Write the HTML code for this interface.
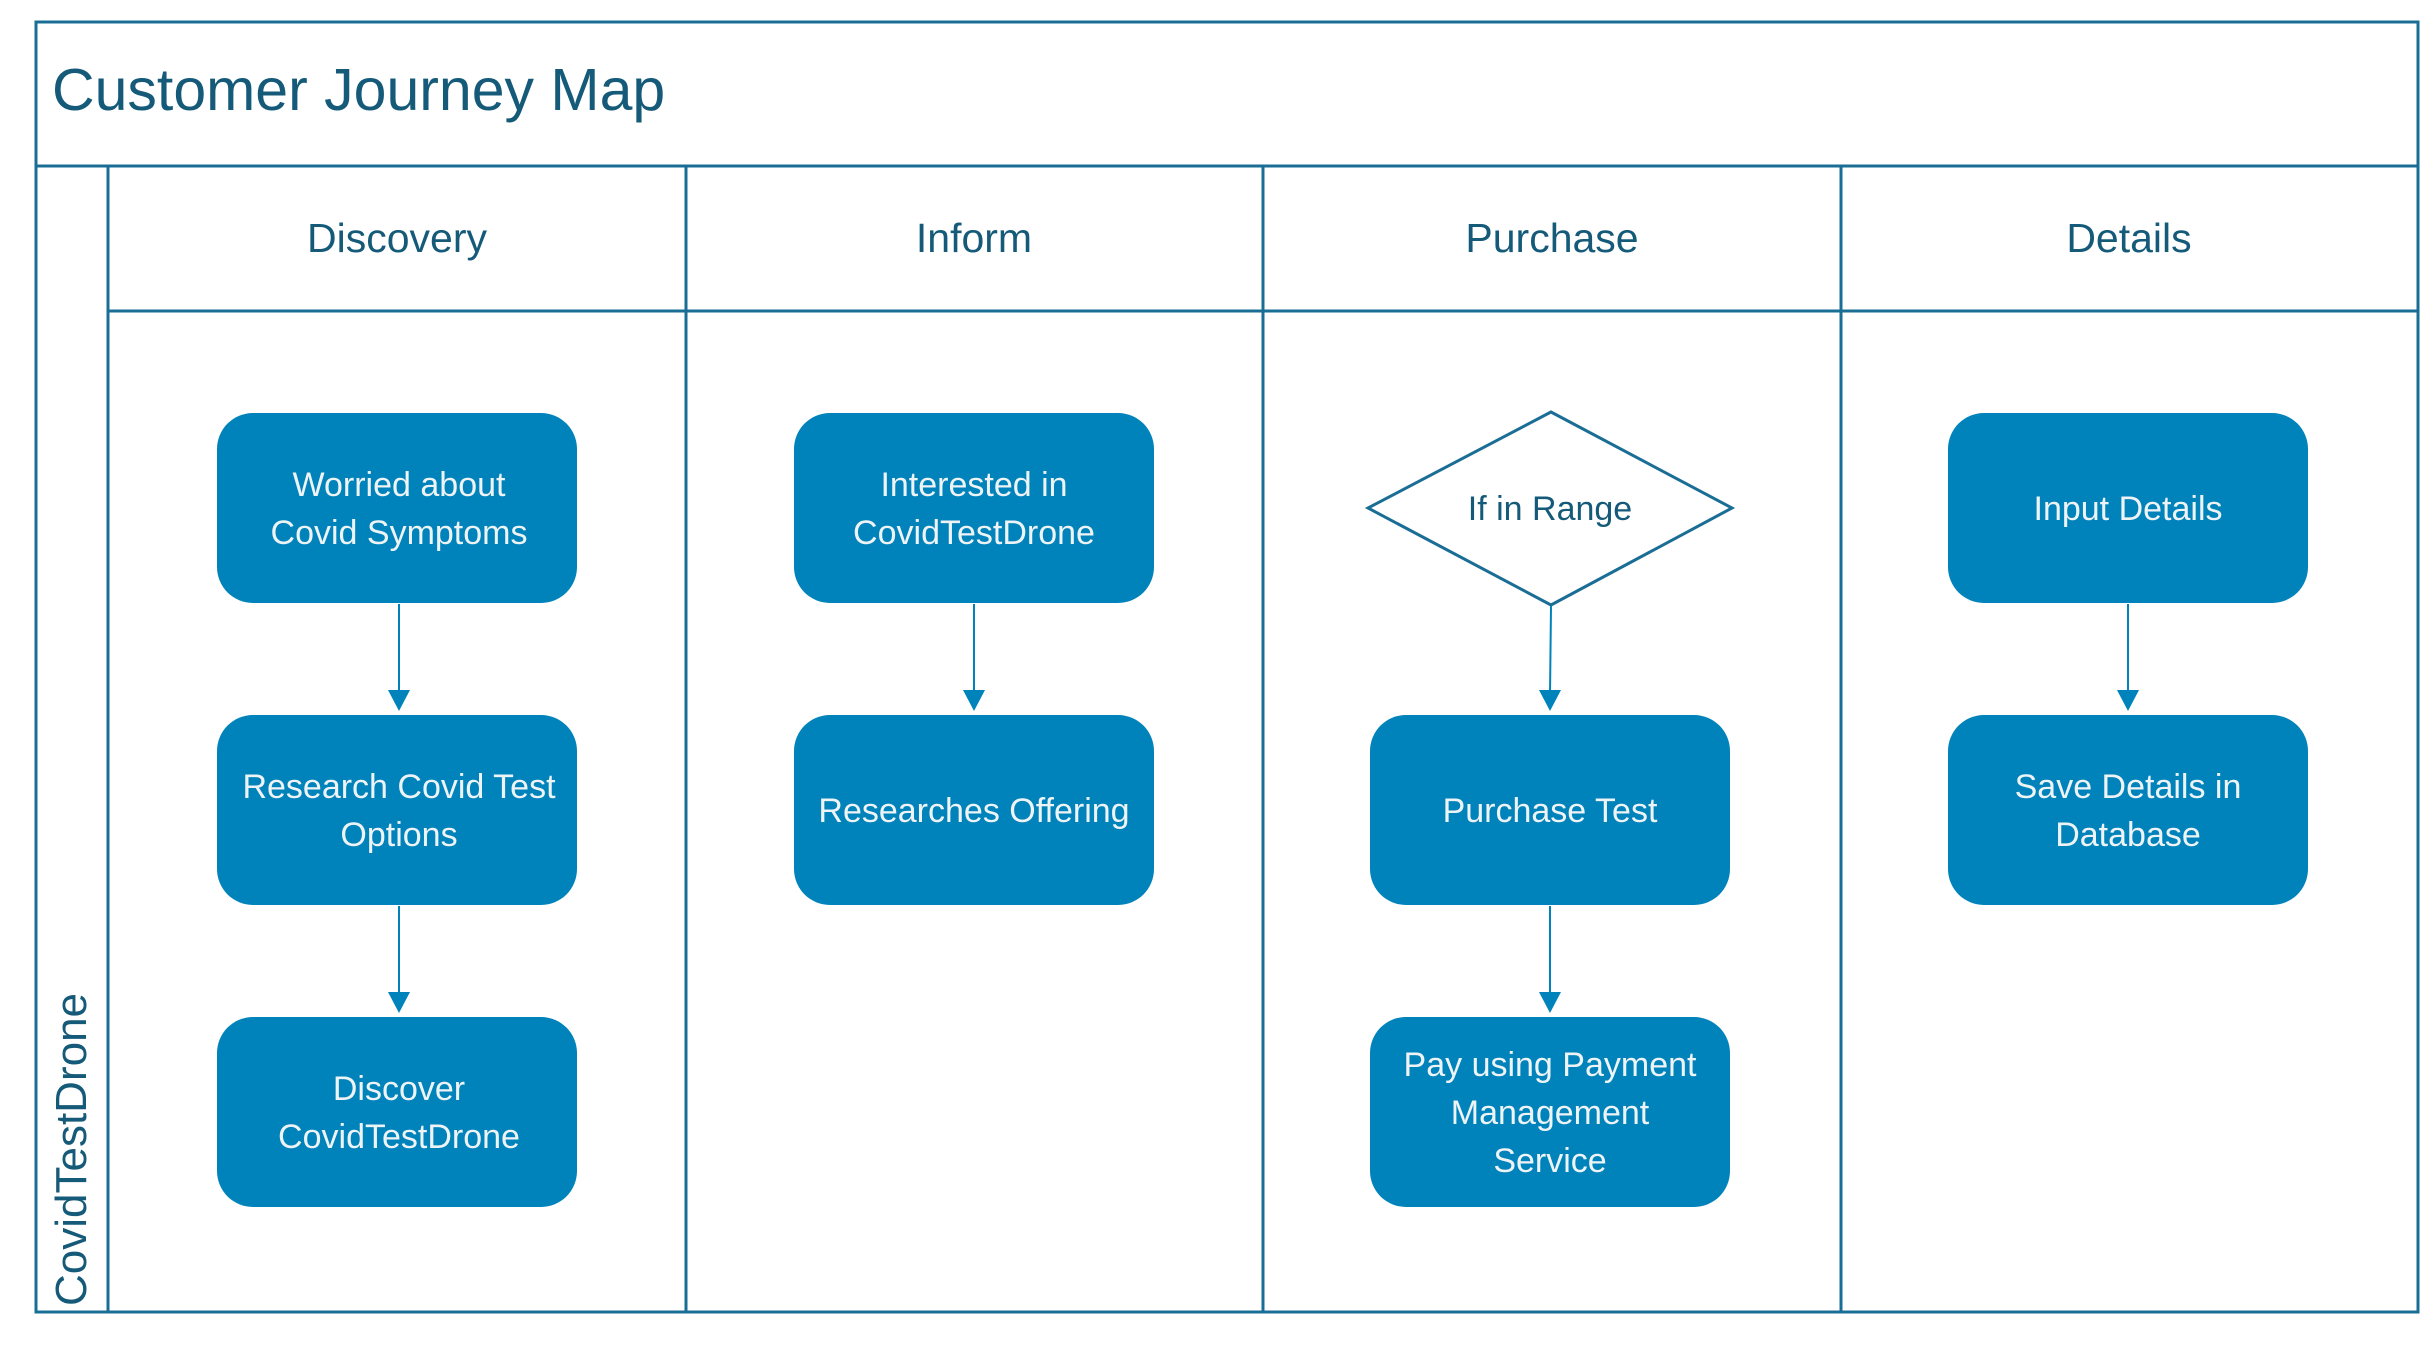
<!DOCTYPE html>
<html><head><meta charset="utf-8"><style>
html,body{margin:0;padding:0;background:#fff;}
svg{display:block;}
text{font-family:"Liberation Sans",sans-serif;}
</style></head><body>
<svg width="2427" height="1349" viewBox="0 0 2427 1349" xmlns="http://www.w3.org/2000/svg">
<g fill="none" stroke="#1A6E96" stroke-width="3">
<rect x="36" y="22" width="2382" height="1290"/>
<line x1="36" y1="166" x2="2418" y2="166"/>
<line x1="108" y1="166" x2="108" y2="1312"/>
<line x1="108" y1="311" x2="2418" y2="311"/>
<line x1="686" y1="166" x2="686" y2="1312"/>
<line x1="1263" y1="166" x2="1263" y2="1312"/>
<line x1="1841" y1="166" x2="1841" y2="1312"/>
</g>
<text x="52" y="110" font-size="59" fill="#155A78">Customer Journey Map</text>
<g font-size="41" fill="#155A78" text-anchor="middle">
<text x="397" y="252">Discovery</text>
<text x="974" y="252">Inform</text>
<text x="1552" y="252">Purchase</text>
<text x="2129" y="252">Details</text>
</g>
<text transform="translate(86,1306) rotate(-90)" font-size="44" fill="#155A78">CovidTestDrone</text>
<g fill="#0083BA">
<rect x="217" y="413" width="360" height="190" rx="36"/>
<rect x="217" y="715" width="360" height="190" rx="36"/>
<rect x="217" y="1017" width="360" height="190" rx="36"/>
<rect x="794" y="413" width="360" height="190" rx="36"/>
<rect x="794" y="715" width="360" height="190" rx="36"/>
<rect x="1370" y="715" width="360" height="190" rx="36"/>
<rect x="1370" y="1017" width="360" height="190" rx="36"/>
<rect x="1948" y="413" width="360" height="190" rx="36"/>
<rect x="1948" y="715" width="360" height="190" rx="36"/>
</g>
<polygon points="1551,412 1732,508 1551,605 1368,508" fill="#fff" stroke="#1A6E96" stroke-width="3"/>
<g stroke="#0083BA" stroke-width="2">
<line x1="399" y1="604" x2="399" y2="695"/>
<line x1="399" y1="906" x2="399" y2="997"/>
<line x1="974" y1="604" x2="974" y2="695"/>
<line x1="1551" y1="606" x2="1550" y2="695"/>
<line x1="1550" y1="906" x2="1550" y2="997"/>
<line x1="2128" y1="604" x2="2128" y2="695"/>
</g>
<g fill="#0083BA">
<polygon points="388,690 410,690 399,711"/>
<polygon points="388,992 410,992 399,1013"/>
<polygon points="963,690 985,690 974,711"/>
<polygon points="1539,690 1561,690 1550,711"/>
<polygon points="1539,992 1561,992 1550,1013"/>
<polygon points="2117,690 2139,690 2128,711"/>
</g>
<g font-size="34" fill="#EEF3F6" text-anchor="middle">
<text x="399" y="496">Worried about</text>
<text x="399" y="544">Covid Symptoms</text>
<text x="399" y="798">Research Covid Test</text>
<text x="399" y="846">Options</text>
<text x="399" y="1100">Discover</text>
<text x="399" y="1148">CovidTestDrone</text>
<text x="974" y="496">Interested in</text>
<text x="974" y="544">CovidTestDrone</text>
<text x="974" y="822">Researches Offering</text>
<text x="1550" y="822">Purchase Test</text>
<text x="1550" y="1076">Pay using Payment</text>
<text x="1550" y="1124">Management</text>
<text x="1550" y="1172">Service</text>
<text x="2128" y="520">Input Details</text>
<text x="2128" y="798">Save Details in</text>
<text x="2128" y="846">Database</text>
</g>
<text x="1550" y="520" font-size="34" fill="#155A78" text-anchor="middle">If in Range</text>
</svg>
</body></html>
